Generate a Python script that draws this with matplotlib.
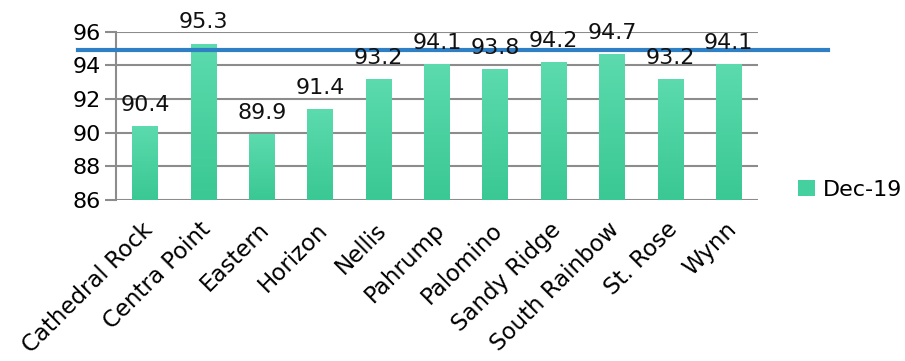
import matplotlib
matplotlib.use('Agg')
import matplotlib.pyplot as plt
import matplotlib.transforms as mtransforms
import numpy as np

# Dec-19 scores by location
locations = ['Cathedral Rock', 'Centra Point', 'Eastern', 'Horizon', 'Nellis',
             'Pahrump', 'Palomino', 'Sandy Ridge', 'South Rainbow', 'St. Rose', 'Wynn']
scores = [90.4, 95.3, 89.9, 91.4, 93.2, 94.1, 93.8, 94.2, 94.7, 93.2, 94.1]
target = 94.9
yticks = [86, 88, 90, 92, 94, 96]
base = 86

plt.rcParams['font.family'] = ['DejaVu Sans']

fig = plt.figure(figsize=(9.05, 3.61), dpi=100)
ax = fig.add_axes([0.128, 0.446, 0.7095, 0.466])

x = np.arange(len(locations))
heights = [v - base for v in scores]
bars = ax.bar(x, heights, bottom=base, width=0.44, color='#45d09f', zorder=3, label='Dec-19')

# vertical gradient fill on each bar
grad = np.linspace(0, 1, 256).reshape(-1, 1)
cmap = matplotlib.colors.LinearSegmentedColormap.from_list('g', ['#5cdbae', '#3ac894'])
for b in bars:
    x0, w = b.get_x(), b.get_width()
    im = ax.imshow(grad, cmap=cmap, aspect='auto', zorder=4, origin='upper',
                   extent=[x0, x0 + w, base, base + b.get_height()])
    im.set_clip_path(b)

for xi, v in zip(x, scores):
    ax.annotate(f'{v:.1f}', xy=(xi, v), xytext=(0, 8), textcoords='offset points',
                ha='center', va='bottom', fontsize=16, color='#111111', zorder=6)

ax.set_xlim(-0.5, len(locations) - 0.5)
ax.set_ylim(86, 96)
ax.set_yticks(yticks)
ax.set_yticklabels([str(t) for t in yticks], fontsize=16)
ax.yaxis.grid(True, color='#8c8c8c', lw=1.5, zorder=1)
ax.tick_params(axis='y', length=8, width=1.5, color='#8c8c8c', pad=3)
ax.tick_params(axis='x', length=0, pad=13)
ax.set_xticks(x)
ax.set_xticklabels(locations, rotation=45, ha='right', rotation_mode='anchor', fontsize=16.5)
# nudge the rotated category labels a little to the left
shift = mtransforms.ScaledTranslation(-3 / 72, 0, fig.dpi_scale_trans)
for lbl in ax.get_xticklabels():
    lbl.set_transform(lbl.get_transform() + shift)
for s in ['top', 'right', 'bottom']:
    ax.spines[s].set_visible(False)
ax.spines['left'].set_color('#8c8c8c')
ax.spines['left'].set_linewidth(1.5)

# target line running past both ends of the plot
trans = mtransforms.blended_transform_factory(ax.transAxes, ax.transData)
ax.plot([-0.059, 1.109], [target, target], color='#2e7fc4', lw=3,
        transform=trans, clip_on=False, zorder=5)

ax.legend(loc='center left', bbox_to_anchor=(0.882, 0.475), bbox_transform=fig.transFigure,
          frameon=False, fontsize=16, handlelength=0.75, handleheight=0.75,
          handletextpad=0.35, borderpad=0, borderaxespad=0)

fig.savefig('out.png', dpi=100)
